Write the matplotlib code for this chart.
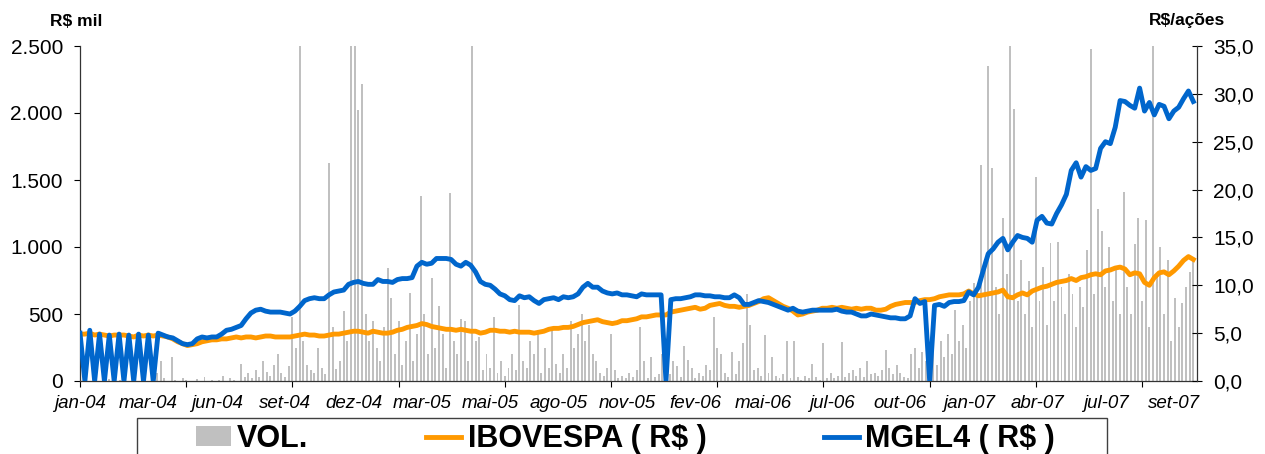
import numpy as np
import matplotlib
matplotlib.use('Agg')
import matplotlib.pyplot as plt
from matplotlib.ticker import FuncFormatter
from matplotlib.patches import Rectangle

plt.rcParams['font.family'] = ['Liberation Sans', 'DejaVu Sans']

# trading days on the x axis (jan-04 .. set-07)
n_days = 915
line_step = 4      # one price point every 4 trading days
vol_step = 3       # one volume bar every 3 trading days
label_step = 56
tick_step = 87

month_labels = ['jan-04', 'mar-04', 'jun-04', 'set-04', 'dez-04', 'mar-05', 'mai-05',
                'ago-05', 'nov-05', 'fev-06', 'mai-06', 'jul-06', 'out-06', 'jan-07',
                'abr-07', 'jul-07', 'set-07']

# volume, R$ mil (left axis)
vol = [0, 5, 0, 0, 10, 0, 0, 0, 15, 0, 0, 5, 0, 0, 0, 10, 0, 20, 0, 0, 30, 60,
       150, 20, 0, 180, 10, 0, 20, 5, 0, 0, 15, 0, 30, 0, 10, 0, 5, 40, 0, 20,
       10, 0, 130, 30, 60, 20, 80, 30, 150, 70, 40, 120, 200, 60, 30, 110, 480, 250,
       2600,
       300, 120, 80, 60, 250, 100, 50, 1630, 400, 90, 150, 520,
       300, 2600, 2600, 2020, 2220, 500, 300, 450, 250, 150, 400, 840, 620,
       200, 450, 120, 300, 660, 150, 350, 1380, 500, 200,
       770, 250, 560, 350, 100, 1400, 300, 200, 460, 450,
       150, 2600, 300, 330, 80, 200, 100, 480, 60, 150,
       40, 100, 200, 80, 570, 150, 100, 300, 200, 380,
       60, 250, 100, 380, 130, 60, 200, 100, 450, 250,
       350, 500, 300, 420, 200, 150, 60, 40, 100, 350,
       80, 20, 40, 20, 60, 30, 80, 400, 150, 20,
       180, 30, 50, 200, 250,
       50, 150, 110, 30, 260, 160, 100, 20, 60, 40,
       120, 80, 480, 250, 200, 60, 30, 220, 50, 150,
       280, 650, 420, 80, 100, 40, 340, 60, 180, 40,
       20, 50, 300, 20, 300, 30, 10, 40, 20, 130,
       30, 10, 280, 20, 60, 20, 40, 290, 30, 60,
       80, 40, 100, 30, 150, 50, 60, 40, 80, 230,
       100, 50, 120, 60, 30, 20, 200, 250, 100, 220,
       150, 80, 250, 120, 300, 180, 350, 200, 530, 300,
       420, 250, 600, 730, 700, 1610, 900, 2350, 1590, 700,
       500, 1220, 800, 2600, 2030, 600, 900, 500, 750, 400,
       1520, 600, 850, 420, 1030, 600, 1040, 700, 500, 800,
       650, 400, 700, 550, 980, 2480, 650, 1280, 1120, 700,
       1000, 600, 850, 500, 1410, 700, 500, 1020, 1220, 600,
       1200, 400, 2600, 800, 1000, 500, 900, 300, 620, 400,
       580, 700, 810, 900]

# IBOVESPA rebased to R$ (right axis)
ibov = [4.9, 4.9, 5.0, 4.8, 4.9, 4.8, 4.7, 4.8, 4.8, 4.8,
        4.7, 4.6, 4.8, 4.7, 4.8, 4.7, 4.8, 4.7, 4.6, 4.4,
        4.1, 3.9, 3.7, 3.8, 3.9, 4.1, 4.2, 4.3, 4.3, 4.4,
        4.4, 4.5, 4.6, 4.5, 4.6, 4.6, 4.5, 4.6, 4.7, 4.7,
        4.6, 4.6, 4.6, 4.6, 4.7, 4.8, 4.9, 4.8, 4.8, 4.7,
        4.7, 4.8, 4.9, 4.9, 5.0, 5.1, 5.2, 5.2, 5.1, 5.0,
        5.2, 5.1, 5.0, 5.0, 5.1, 5.3, 5.4, 5.6, 5.7, 5.8,
        6.0, 5.9, 5.7, 5.6, 5.5, 5.4, 5.4, 5.3, 5.4, 5.3,
        5.2, 5.2, 5.0, 5.1, 5.3, 5.3, 5.2, 5.2, 5.1, 5.2,
        5.1, 5.1, 5.1, 5.0, 5.1, 5.2, 5.4, 5.5, 5.5, 5.6,
        5.6, 5.7, 5.9, 6.1, 6.2, 6.3, 6.4, 6.2, 6.1, 6.0,
        6.1, 6.3, 6.3, 6.4, 6.5, 6.7, 6.7, 6.8, 6.9, 6.9,
        6.9, 7.2, 7.3, 7.4, 7.5, 7.6, 7.7, 7.5, 7.6, 7.9,
        8.0, 8.1, 7.9, 7.8, 7.8, 7.7, 7.8, 7.9, 8.1, 8.3,
        8.6, 8.7, 8.4, 8.1, 7.8, 7.6, 7.3, 6.9, 7.0, 7.2,
        7.3, 7.4, 7.6, 7.6, 7.7, 7.6, 7.7, 7.6, 7.5, 7.6,
        7.5, 7.6, 7.6, 7.4, 7.4, 7.5, 7.8, 8.0, 8.1, 8.2,
        8.2, 8.2, 8.4, 8.5, 8.5, 8.6, 8.8, 8.9, 9.0, 9.0,
        9.0, 9.1, 9.4, 9.1, 8.9, 9.0, 9.1, 9.2, 9.3, 9.5,
        8.8, 8.7, 9.0, 9.2, 9.0, 9.4, 9.6, 9.8, 9.9, 10.1,
        10.3, 10.4, 10.5, 10.7, 10.5, 10.8, 10.9, 11.1, 11.2, 11.1,
        11.5, 11.6, 11.8, 11.9, 11.7, 11.1, 11.3, 11.2, 10.3, 10.0,
        10.8, 11.3, 11.4, 11.1, 11.5, 12.0, 12.6, 13.0, 12.7]

# MGEL4 share price R$ (right axis)
mgel4 = [5.0, 0, 5.3, 0, 4.9, 0, 4.8, 0, 4.9, 0,
         4.8, 0, 4.9, 0, 4.8, 0, 5.0, 4.8, 4.6, 4.5,
         4.2, 3.9, 3.8, 3.9, 4.4, 4.6, 4.5, 4.6, 4.6, 4.9,
         5.3, 5.4, 5.6, 5.8, 6.5, 7.1, 7.4, 7.5, 7.3, 7.2,
         7.2, 7.2, 7.1, 7.0, 7.3, 7.8, 8.4, 8.6, 8.7, 8.6,
         8.6, 9.0, 9.3, 9.4, 9.5, 10.1, 10.3, 10.4, 10.2, 10.1,
         10.1, 10.6, 10.4, 10.4, 10.3, 10.6, 10.7, 10.7, 10.8, 12.0,
         12.4, 12.2, 12.3, 12.8, 12.8, 12.8, 12.7, 12.2, 12.0, 12.4,
         12.1, 11.4, 10.4, 10.1, 10.0, 9.6, 9.1, 8.9, 8.5, 8.4,
         8.9, 8.7, 8.8, 8.4, 8.1, 8.5, 8.6, 8.7, 8.5, 8.8,
         8.7, 8.8, 9.1, 9.8, 10.2, 9.8, 9.8, 9.4, 9.2, 9.1,
         9.2, 9.0, 9.0, 8.9, 8.8, 9.1, 9.0, 9.0, 9.0, 9.0,
         0, 8.5, 8.6, 8.6, 8.7, 8.8, 9.0, 9.0, 8.9, 8.9,
         8.8, 8.8, 8.7, 8.7, 9.0, 8.7, 8.0, 8.0, 8.2, 8.4,
         8.3, 8.2, 8.0, 7.8, 7.6, 7.4, 7.6, 7.3, 7.2, 7.3,
         7.4, 7.4, 7.4, 7.4, 7.4, 7.5, 7.3, 7.2, 7.2, 7.0,
         6.8, 6.8, 7.0, 6.9, 6.8, 6.7, 6.6, 6.6, 6.5, 6.5,
         6.8, 8.6, 8.1, 8.3, 0, 7.9, 8.0, 7.8, 8.2, 8.3,
         8.3, 8.4, 9.3, 9.0, 9.8, 11.6, 13.3, 13.8, 14.5, 14.9,
         13.7, 14.5, 15.2, 15.0, 14.9, 14.5, 16.8, 17.2, 16.5, 16.4,
         17.5, 18.4, 19.5, 22.0, 22.8, 21.3, 22.4, 22.0, 22.2, 24.3,
         25.0, 24.8, 26.5, 29.3, 29.2, 28.8, 28.5, 30.6, 28.2, 29.1,
         27.8, 28.9, 28.7, 27.4, 28.2, 28.6, 29.5, 30.3, 29.2]

x_vol = np.arange(len(vol)) * vol_step
x_line = np.arange(len(mgel4)) * line_step

fig = plt.figure(figsize=(12.65, 4.54), dpi=100)
ax = fig.add_axes([80/1265, 73/454, 1117/1265, 335/454])

# volume bars on the left axis
ax.bar(x_vol, vol, width=1.6, color='#C0C0C0', linewidth=0, label='VOL.')
ax.set_xlim(0, n_days)
ax.set_ylim(0, 2500)
ax.set_yticks(np.arange(0, 2501, 500))
ax.yaxis.set_major_formatter(FuncFormatter(lambda v, p: f'{int(v):,}'.replace(',', '.')))
ax.tick_params(axis='y', direction='out', length=4.3, width=0.8, pad=8, labelsize=15)

# x axis: tick marks and month labels use different spacing
ax.xaxis.remove_overlapping_locs = False
ax.set_xticks(np.arange(0, n_days, tick_step))
ax.set_xticks(np.arange(len(month_labels)) * label_step, minor=True)
ax.set_xticklabels(month_labels, minor=True)
ax.tick_params(axis='x', which='major', labelbottom=False, direction='out', length=4.3, width=0.8)
ax.tick_params(axis='x', which='minor', length=0, pad=10, labelsize=13.5)
for lbl in ax.get_xticklabels(minor=True):
    lbl.set_style('italic')

# price lines on the right axis
ax2 = ax.twinx()
ax2.plot(x_line, ibov, color='#FF9900', lw=3.5, label='IBOVESPA ( R$ )')
ax2.plot(x_line, mgel4, color='#0066CC', lw=3.5, label='MGEL4 ( R$ )')
ax2.set_ylim(0, 35)
ax2.set_yticks(np.arange(0, 36, 5))
ax2.yaxis.set_major_formatter(FuncFormatter(lambda v, p: f'{v:.1f}'.replace('.', ',')))
ax2.tick_params(axis='y', direction='inout', length=7.2, width=0.8, pad=8, labelsize=15)

for a in (ax, ax2):
    a.spines['top'].set_visible(False)
    for s in a.spines.values():
        s.set_color('#333333')
        s.set_linewidth(0.9)
ax.spines['right'].set_visible(False)
ax2.spines['left'].set_visible(False)
ax2.spines['bottom'].set_visible(False)

fig.text(76/1265, 1 - 21/454, 'R$ mil', ha='center', va='center', fontsize=12.5, fontweight='bold')
fig.text(1187/1265, 1 - 21/454, 'R$/ações', ha='center', va='center', fontsize=12.5, fontweight='bold')

# legend box runs off the bottom edge
box = Rectangle((137/1265, -0.2), (1107 - 137)/1265, 0.2 + (454 - 418)/454,
                transform=fig.transFigure, fill=False, edgecolor='#404040', lw=1)
fig.add_artist(box)

h1, l1 = ax.get_legend_handles_labels()
h2, l2 = ax2.get_legend_handles_labels()
fig.legend(h1 + h2, l1 + l2, loc='center left', bbox_to_anchor=(196/1265, (454 - 439)/454),
           ncol=3, frameon=False, prop={'size': 22, 'weight': 'bold'},
           handlelength=1.15, handleheight=0.62, handletextpad=0.2, columnspacing=3.85,
           borderpad=0, borderaxespad=0)

fig.savefig('out.png', dpi=100)
